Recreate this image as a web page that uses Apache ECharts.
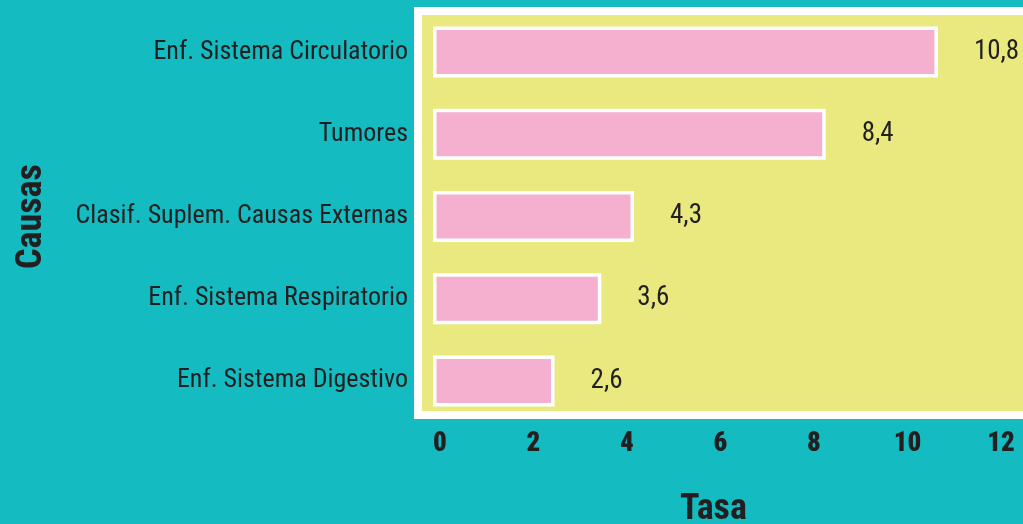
<!DOCTYPE html>
<html>
<head>
<meta charset="utf-8">
<script src="https://cdn.jsdelivr.net/npm/echarts@6/dist/echarts.min.js"></script>
<style>
  html, body { margin: 0; padding: 0; background: #14bbc0; }
  #chart { width: 1023px; height: 524px; }
</style>
</head>
<body>
<div id="chart"></div>
<script>
var causas = ['Enf. Sistema Circulatorio', 'Tumores', 'Clasif. Suplem. Causas Externas', 'Enf. Sistema Respiratorio', 'Enf. Sistema Digestivo'];
var tasas = [10.8, 8.4, 4.3, 3.6, 2.6];
var xTicks = [0, 2, 4, 6, 8, 10, 12];

// fontStyle 'condensed' ends up in the canvas font string -> narrow Roboto
var cond = 'condensed';
var fam = 'Roboto';
var chart = echarts.init(document.getElementById('chart'));

var option = {
    backgroundColor: '#14bbc0',
    animation: false,
    graphic: [{
        type: 'rect',
        z: -10,
        shape: { x: 418, y: 11, width: 700, height: 404 },
        style: { fill: '#e9e980', stroke: '#ffffff', lineWidth: 8 }
    }],
    grid: { left: 433, right: 29, top: 11, bottom: 102, outerBoundsMode: 'none' },
    xAxis: {
        type: 'value',
        min: xTicks[0],
        max: xTicks[xTicks.length - 1],
        interval: 2,
        name: 'Tasa',
        nameLocation: 'middle',
        nameGap: 70,
        nameTextStyle: { fontStyle: cond, fontFamily: fam, fontWeight: 'bold', fontSize: 36, color: '#231f20' },
        axisLine: { show: false },
        axisTick: { show: false },
        splitLine: { show: false },
        axisLabel: {
            margin: 9,
            padding: [0, 0, 0, 14],
            fontStyle: cond, fontFamily: fam, fontWeight: 900, fontSize: 27, color: '#231f20'
        }
    },
    yAxis: {
        type: 'category',
        data: causas,
        inverse: true,
        name: 'Causas',
        nameLocation: 'middle',
        nameRotate: 90,
        nameGap: 383,
        nameTextStyle: { fontStyle: cond, fontFamily: fam, fontWeight: 'bold', fontSize: 36, color: '#231f20' },
        axisLine: { show: false },
        axisTick: { show: false },
        axisLabel: { margin: 25, fontStyle: cond, fontFamily: fam, fontSize: 26, color: '#231f20' }
    },
    series: [{
        type: 'bar',
        data: tasas,
        barWidth: 51,
        itemStyle: { color: '#f5afcf', borderColor: '#ffffff', borderWidth: 3.5 },
        label: {
            show: true,
            position: 'right',
            distance: 36,
            fontStyle: cond,
            fontFamily: fam,
            fontSize: 27,
            color: '#231f20',
            formatter: function (p) { return String(p.value).replace('.', ','); }
        }
    }]
};

chart.setOption(option);
</script>
</body>
</html>
